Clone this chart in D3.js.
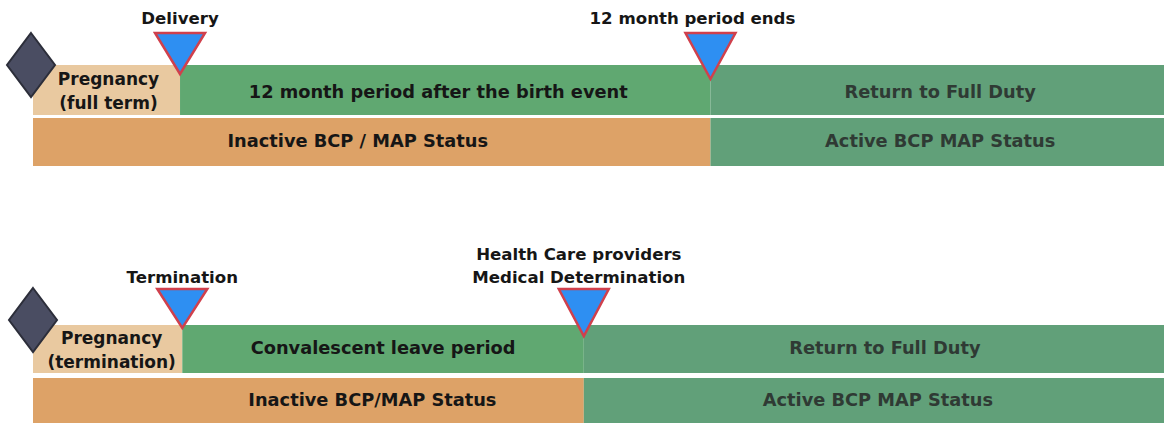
<!DOCTYPE html>
<html><head><meta charset="utf-8">
<script src="https://cdn.jsdelivr.net/npm/d3@7"></script>
<style>body{margin:0;background:#fff}svg{display:block}text{font-family:"DejaVu Sans","Liberation Sans",Arial,sans-serif;font-weight:bold}</style>
</head><body><svg id="c" width="1164" height="423"></svg>
<script>
// timeline units 0..100 across the bar width
const panels = ["full", "termination"];
const pregnancyLabels = [["Pregnancy", "(full term)"], ["Pregnancy", "(termination)"]];
const eventNames = [["Delivery", "12 month period ends"], ["Termination", "Health Care providers\nMedical Determination"]];
const eventPos = [[13.0, 59.9], [13.2, 48.7]];
const upperLabels = [["12 month period after the birth event", "Return to Full Duty"], ["Convalescent leave period", "Return to Full Duty"]];
const lowerLabels = [["Inactive BCP / MAP Status", "Active BCP MAP Status"], ["Inactive BCP/MAP Status", "Active BCP MAP Status"]];

const svg = d3.select("#c");
const x = d3.scaleLinear().domain([0, 100]).range([33, 1164]);
const rowY = d3.scaleOrdinal().domain(["upper", "lower"]).range([65, 118]);
const panelOffset = [0, 260];
// label nudges (px) relative to segment centres
const upperNudge = [[-7, 3], [0, 11]];
const lowerNudge = [[-14, 3], [64, 4]];
const eventNudge = [[0, -18], [0, -5]];

const C = {tan: "#e9c9a0", green: "#60a871", green2: "#61a079", orange: "#dda267", text: "#161616", text2: "#2f3a34"};

panels.forEach((p, i) => {
  const g = svg.append("g").attr("transform", `translate(0,${panelOffset[i]})`);
  const e1 = eventPos[i][0], e2 = eventPos[i][1];
  const uy = rowY("upper"), ly = rowY("lower");
  const uh = i === 0 ? 50 : 48, lh = i === 0 ? 48 : 50;
  const upperSegs = [
    {a: 0, b: e1, fill: C.tan, label: null},
    {a: e1, b: e2, fill: C.green, label: upperLabels[i][0], col: C.text, n: upperNudge[i][0]},
    {a: e2, b: 100, fill: C.green2, label: upperLabels[i][1], col: C.text2, n: upperNudge[i][1]}
  ];
  const lowerSegs = [
    {a: 0, b: e2, fill: C.orange, label: lowerLabels[i][0], col: C.text, n: lowerNudge[i][0]},
    {a: e2, b: 100, fill: C.green2, label: lowerLabels[i][1], col: C.text2, n: lowerNudge[i][1]}
  ];
  g.selectAll(".u").data(upperSegs).join("rect").attr("x", d => x(d.a)).attr("width", d => x(d.b) - x(d.a))
    .attr("y", uy).attr("height", uh).attr("fill", d => d.fill);
  g.selectAll(".l").data(lowerSegs).join("rect").attr("x", d => x(d.a)).attr("width", d => x(d.b) - x(d.a))
    .attr("y", ly).attr("height", lh).attr("fill", d => d.fill);
  g.selectAll(".ut").data(upperSegs.filter(d => d.label)).join("text")
    .attr("x", d => (x(d.a) + x(d.b)) / 2 + d.n)
    .attr("y", uy + 33 - (i === 1 ? 4 : 0)).attr("text-anchor", "middle").attr("font-size", 17.8).attr("fill", d => d.col).text(d => d.label);
  g.selectAll(".lt").data(lowerSegs).join("text")
    .attr("x", d => (x(d.a) + x(d.b)) / 2 + d.n)
    .attr("y", ly + 29 + (i === 1 ? -1 : 0)).attr("text-anchor", "middle").attr("font-size", 17.8).attr("fill", d => d.col).text(d => d.label);
  // pregnancy label
  const pl = g.append("text").attr("text-anchor", "middle").attr("font-size", 17).attr("fill", C.text);
  pregnancyLabels[i].forEach((t, k) => pl.append("tspan").attr("x", x(e1 / 2) + 2 + (i === 1 ? 2 : 0)).attr("y", uy + (i === 0 ? 20 : 19) + k * 24).text(t));
  // diamond
  const dc = [31 + (i === 1 ? 2 : 0), i === 0 ? 65 : 60];
  g.append("path").attr("d", `M${dc[0]},${dc[1] - 32}L${dc[0] + 24},${dc[1]}L${dc[0]},${dc[1] + 32}L${dc[0] - 24},${dc[1]}Z`)
    .attr("fill", "#4a4d62").attr("stroke", "#2c2e3a").attr("stroke-width", 2);
  // event triangles
  eventPos[i].forEach((ev, k) => {
    const cx = x(ev);
    const top = i === 0 ? 33 : 29;
    const tip = i === 0 ? (k === 0 ? 74 : 79) : (k === 0 ? 68 : 76);
    g.append("path").attr("d", `M${cx - 25},${top}L${cx + 25},${top}L${cx},${tip}Z`)
      .attr("fill", "#2e8ff2").attr("stroke", "#d0404c").attr("stroke-width", 2.5).attr("stroke-linejoin", "miter");
    const lines = eventNames[i][k].split("\n");
    const t = g.append("text").attr("text-anchor", "middle").attr("font-size", 16.6).attr("fill", C.text);
    lines.forEach((s, j) => t.append("tspan").attr("x", cx + eventNudge[i][k])
      .attr("y", (i === 0 ? 24 : 23) - (lines.length - 1 - j) * 23).text(s));
  });
});
</script></body></html>
